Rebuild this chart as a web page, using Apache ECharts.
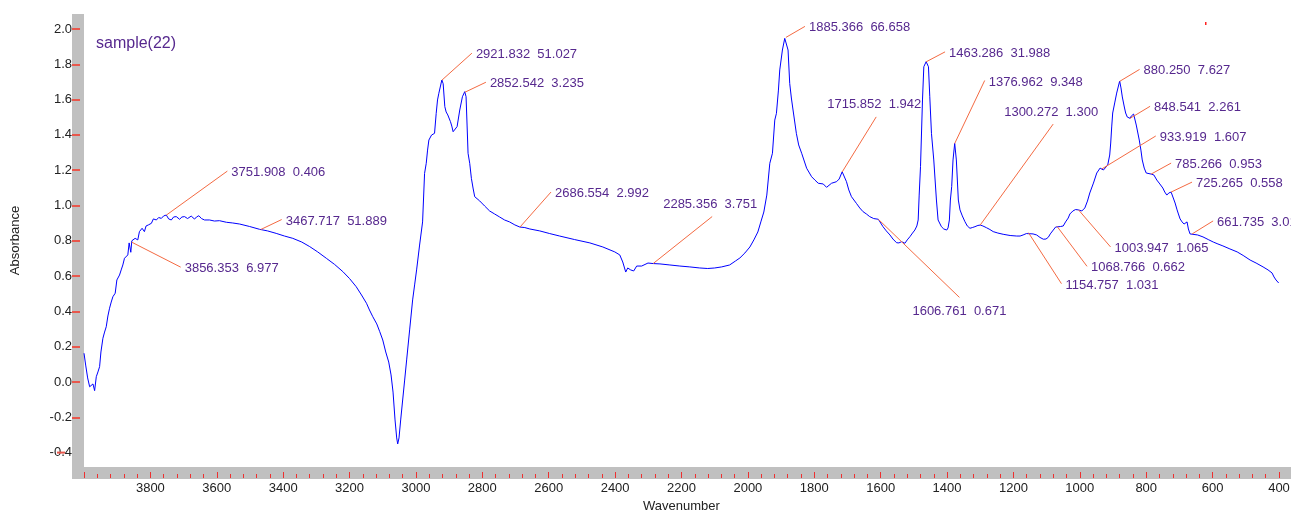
<!DOCTYPE html>
<html>
<head>
<meta charset="utf-8">
<script src="https://cdn.jsdelivr.net/npm/echarts@6/dist/echarts.min.js"></script>
<style>
  html, body { margin: 0; padding: 0; background: #ffffff; }
  #chart { width: 1291px; height: 511px; }
</style>
</head>
<body>
<div id="chart"></div>
<script>
// IR absorbance spectrum of sample(22): [wavenumber (cm-1), absorbance]
const spectrum = [
  [4000,0.163],[3995,0.096],[3989,0.023],[3983,-0.027],[3977,-0.017],[3973,-0.011],[3968,-0.049],[3963,0.030],
  [3958,0.057],[3953,0.087],[3949,0.170],[3943,0.248],[3938,0.283],[3933,0.313],[3928,0.374],[3923,0.418],
  [3918,0.453],[3913,0.483],[3906,0.503],[3901,0.578],[3893,0.606],[3888,0.635],[3883,0.663],[3878,0.701],
  [3873,0.703],[3868,0.720],[3864,0.788],[3861,0.795],[3859,0.735],[3856,0.800],[3851,0.790],[3846,0.814],
  [3843,0.814],[3838,0.805],[3833,0.852],[3825,0.871],[3818,0.852],[3813,0.884],[3806,0.890],[3797,0.899],
  [3791,0.924],[3782,0.918],[3775,0.932],[3767,0.927],[3760,0.941],[3752,0.946],[3745,0.924],[3737,0.918],
  [3730,0.935],[3722,0.937],[3712,0.922],[3705,0.935],[3697,0.937],[3688,0.926],[3677,0.940],[3667,0.923],
  [3661,0.935],[3654,0.942],[3646,0.926],[3637,0.918],[3622,0.918],[3607,0.912],[3592,0.914],[3571,0.905],
  [3552,0.901],[3531,0.895],[3501,0.881],[3471,0.865],[3447,0.856],[3421,0.842],[3396,0.827],[3371,0.814],
  [3344,0.793],[3320,0.767],[3296,0.737],[3270,0.701],[3245,0.666],[3220,0.625],[3200,0.586],[3180,0.540],
  [3164,0.493],[3149,0.446],[3140,0.408],[3130,0.370],[3118,0.329],[3109,0.285],[3100,0.238],[3091,0.170],
  [3082,0.113],[3075,0.040],[3069,-0.057],[3063,-0.215],[3058,-0.317],[3055,-0.351],[3051,-0.317],[3046,-0.215],
  [3040,-0.102],[3034,0.011],[3028,0.125],[3019,0.295],[3010,0.465],[3004,0.550],[2998,0.635],[2989,0.776],
  [2980,0.907],[2974,1.182],[2969,1.239],[2965,1.314],[2961,1.371],[2953,1.399],[2948,1.405],[2944,1.409],
  [2939,1.522],[2935,1.598],[2931,1.636],[2922,1.711],[2918,1.690],[2913,1.560],[2909,1.530],[2904,1.513],
  [2896,1.475],[2892,1.450],[2888,1.418],[2883,1.409],[2876,1.447],[2868,1.541],[2860,1.616],[2853,1.645],
  [2849,1.616],[2846,1.456],[2843,1.296],[2838,1.239],[2833,1.154],[2828,1.099],[2823,1.050],[2808,1.026],
  [2793,0.997],[2778,0.969],[2763,0.952],[2748,0.935],[2733,0.918],[2718,0.907],[2702,0.890],[2687,0.878],
  [2672,0.875],[2657,0.867],[2627,0.856],[2597,0.841],[2567,0.827],[2522,0.807],[2476,0.788],[2437,0.765],
  [2401,0.737],[2386,0.720],[2377,0.680],[2368,0.623],[2362,0.646],[2353,0.635],[2344,0.629],[2335,0.657],
  [2320,0.657],[2301,0.674],[2285,0.671],[2265,0.669],[2235,0.663],[2205,0.657],[2175,0.652],[2145,0.646],
  [2121,0.643],[2100,0.646],[2079,0.652],[2055,0.663],[2037,0.686],[2024,0.703],[2009,0.731],[1994,0.765],
  [1982,0.805],[1970,0.850],[1961,0.907],[1952,0.963],[1943,1.059],[1934,1.239],[1926,1.296],[1919,1.484],
  [1914,1.522],[1908,1.654],[1904,1.768],[1896,1.881],[1889,1.947],[1885,1.953],[1879,1.881],[1874,1.692],
  [1869,1.609],[1864,1.541],[1854,1.409],[1847,1.343],[1838,1.296],[1823,1.211],[1808,1.163],[1798,1.144],
  [1788,1.126],[1773,1.122],[1763,1.103],[1748,1.126],[1733,1.135],[1725,1.150],[1716,1.191],[1703,1.135],
  [1696,1.088],[1688,1.050],[1673,1.012],[1663,0.986],[1653,0.965],[1643,0.952],[1633,0.937],[1621,0.926],
  [1607,0.922],[1593,0.880],[1583,0.856],[1572,0.833],[1563,0.810],[1552,0.789],[1545,0.788],[1537,0.795],
  [1527,0.786],[1520,0.805],[1512,0.823],[1504,0.844],[1497,0.861],[1491,0.884],[1487,0.918],[1484,1.059],
  [1480,1.220],[1474,1.598],[1470,1.786],[1463,1.815],[1456,1.786],[1452,1.616],[1447,1.409],[1440,1.258],
  [1432,1.031],[1427,0.918],[1417,0.880],[1410,0.867],[1401,0.861],[1397,0.873],[1393,0.918],[1390,1.031],
  [1386,1.107],[1382,1.258],[1377,1.352],[1372,1.258],[1366,1.031],[1361,0.975],[1354,0.941],[1346,0.908],
  [1339,0.884],[1331,0.871],[1324,0.875],[1316,0.880],[1307,0.887],[1300,0.889],[1292,0.884],[1281,0.874],
  [1271,0.864],[1261,0.852],[1247,0.844],[1231,0.837],[1210,0.830],[1190,0.827],[1180,0.827],[1171,0.833],
  [1161,0.841],[1155,0.846],[1141,0.839],[1130,0.833],[1120,0.819],[1110,0.809],[1102,0.810],[1095,0.820],
  [1089,0.839],[1080,0.861],[1073,0.878],[1069,0.882],[1058,0.881],[1050,0.884],[1043,0.907],[1035,0.929],
  [1030,0.952],[1021,0.969],[1013,0.977],[1004,0.975],[994,0.969],[985,0.986],[977,1.025],[970,1.071],
  [959,1.127],[949,1.184],[939,1.212],[934,1.207],[929,1.201],[923,1.195],[916,1.229],[910,1.286],
  [907,1.354],[904,1.445],[901,1.524],[895,1.581],[889,1.637],[880,1.705],[876,1.666],[872,1.615],
  [866,1.558],[862,1.524],[857,1.501],[851,1.501],[848.5,1.494],[845,1.507],[838,1.518],[830,1.456],
  [821,1.371],[816,1.314],[812,1.258],[806,1.212],[800,1.184],[794,1.178],[785,1.178],[777,1.173],
  [768,1.144],[759,1.122],[750,1.099],[744,1.076],[738,1.059],[732,1.071],[725,1.076],[719,1.071],
  [713,1.014],[707,0.975],[703,0.952],[698,0.924],[692,0.907],[686,0.895],[681,0.895],[677,0.907],
  [673,0.867],[668,0.839],[662,0.839],[645,0.833],[629,0.822],[613,0.807],[598,0.793],[584,0.782],
  [569,0.771],[548,0.754],[526,0.737],[508,0.717],[487,0.691],[469,0.674],[448,0.652],[433,0.635],
  [421,0.618],[415,0.595],[409,0.578],[401,0.561]
];

// Picked peaks: wavenumber and the value printed next to it
const peakWavenumbers = [3856.353, 3751.908, 3467.717, 2921.832, 2852.542, 2686.554, 2285.356,
  1885.366, 1715.852, 1606.761, 1463.286, 1376.962, 1300.272, 1154.757, 1068.766, 1003.947,
  933.919, 880.250, 848.541, 785.266, 725.265, 661.735];
const peakValues = ['6.977', '0.406', '51.889', '51.027', '3.235', '2.992', '3.751',
  '66.658', '1.942', '0.671', '31.988', '9.348', '1.300', '1.031', '0.662', '1.065',
  '1.607', '7.627', '2.261', '0.953', '0.558', '3.012'];

// Axis ticks
const yTickValues = [-0.4, -0.2, 0.0, 0.2, 0.4, 0.6, 0.8, 1.0, 1.2, 1.4, 1.6, 1.8, 2.0];
const xRange = [400, 4000];
const yRange = [-0.4816, 2.085];

// Leader-line layout for each peak label: [dx, dy, placement] in pixels from the peak
const leaderLayout = [
  [49, 25, 'right'], [61, -44, 'right'], [21, -10, 'right'], [30, -27, 'right'],
  [21, -10, 'right'], [31, -35, 'right'], [59, -47, 'above'], [19, -11, 'right'],
  [34, -55, 'above'], [81, 78, 'below'], [19, -10, 'right'], [30, -63, 'right'],
  [73, -101, 'above'], [33, 51, 'right'], [30, 40, 'right'], [32, 37, 'right'],
  [54, -33, 'right'], [20, -12, 'right'], [20, -12, 'right'], [20, -11, 'right'],
  [21, -10, 'right'], [21, -13, 'right']
];

const FONT = '"Liberation Sans", Arial, Helvetica, sans-serif';
const PURPLE = '#56288e';
const LEADER = '#f46a42';
const TICK_RED = '#ee3030';
const BAND = '#c0c0c0';

// Linear interpolation of the spectrum at a given wavenumber
function absorbanceAt(wn) {
  for (let i = 0; i < spectrum.length - 1; i++) {
    const a = spectrum[i], b = spectrum[i + 1];
    if (wn <= a[0] && wn >= b[0]) {
      const t = (a[0] - wn) / (a[0] - b[0]);
      return a[1] + t * (b[1] - a[1]);
    }
  }
  return spectrum[spectrum.length - 1][1];
}

const peakData = peakWavenumbers.map((wn, i) => [wn, absorbanceAt(wn), i]);

function renderPeakLabel(params, api) {
  const i = api.value(2);
  const p = api.coord([api.value(0), api.value(1)]);
  const lay = leaderLayout[i];
  const ex = p[0] + lay[0], ey = p[1] + lay[1];
  const text = peakWavenumbers[i].toFixed(3) + '  ' + peakValues[i];
  let tx, ty, align;
  if (lay[2] === 'right') { tx = ex + 4; ty = ey + 1.5; align = 'left'; }
  else if (lay[2] === 'above') { tx = ex - 2; ty = ey - 12; align = 'center'; }
  else { tx = ex; ty = ey + 14; align = 'center'; }
  return {
    type: 'group',
    children: [
      { type: 'line', shape: { x1: p[0], y1: p[1], x2: ex, y2: ey },
        style: { stroke: LEADER, lineWidth: 1 } },
      { type: 'text', style: { x: tx, y: ty, text: text, fill: PURPLE, fontSize: 13,
        fontFamily: FONT, align: align, verticalAlign: 'middle' } }
    ]
  };
}

const chart = echarts.init(document.getElementById('chart'), null, { renderer: 'canvas' });

function bandGraphics(extra) {
  return [
    { type: 'rect', z: -1, silent: true, shape: { x: 72, y: 14, width: 12, height: 465 }, style: { fill: BAND } },
    { type: 'rect', z: -1, silent: true, shape: { x: 72, y: 467, width: 1219, height: 12 }, style: { fill: BAND } },
    { type: 'rect', z: 1, silent: true, shape: { x: 1205, y: 22, width: 1.5, height: 3 }, style: { fill: '#ff2020' } }
  ].concat(extra || []);
}

chart.setOption({
  animation: false,
  backgroundColor: '#ffffff',
  textStyle: { fontFamily: FONT },
  title: {
    text: 'sample(22)', left: 96, top: 36, padding: 0,
    textStyle: { color: PURPLE, fontSize: 16, fontWeight: 'normal', fontFamily: FONT }
  },
  grid: { left: 84, right: 12, top: 14, bottom: 44, containLabel: false, outerBoundsMode: 'none' },
  xAxis: {
    type: 'value', inverse: true, min: xRange[0], max: xRange[1], interval: 200,
    offset: 11,
    axisLine: { show: false, onZero: false },
    axisTick: { show: true, inside: true, length: 6, lineStyle: { color: TICK_RED, width: 1 } },
    minorTick: { show: true, splitNumber: 5, length: 4, lineStyle: { color: TICK_RED, width: 1 } },
    axisLabel: { showMaxLabel: false, margin: 4, color: '#222', fontSize: 13, fontFamily: FONT,
      formatter: v => String(v) },
    splitLine: { show: false },
    name: 'Wavenumber', nameLocation: 'middle', nameGap: 20,
    nameTextStyle: { color: '#222', fontSize: 13, fontFamily: FONT }
  },
  yAxis: {
    type: 'value', min: yRange[0], max: yRange[1],
    offset: 4,
    axisLine: { show: false, onZero: false },
    axisTick: { show: true, length: 8, customValues: yTickValues.filter(v => v !== -0.4),
      lineStyle: { color: '#e8574c', width: 2 } },
    axisLabel: { customValues: yTickValues, formatter: v => Number(v).toFixed(1),
      margin: 8, color: '#222', fontSize: 13, fontFamily: FONT },
    splitLine: { show: false },
    name: 'Absorbance', nameLocation: 'middle', nameGap: 58,
    nameTextStyle: { color: '#222', fontSize: 13, fontFamily: FONT }
  },
  graphic: bandGraphics(),
  series: [
    {
      type: 'line', data: spectrum, showSymbol: false, symbol: 'none',
      lineStyle: { color: '#0000ff', width: 1 }, z: 3, clip: true
    },
    {
      type: 'custom', data: peakData, renderItem: renderPeakLabel, z: 4, clip: false,
      encode: { x: 0, y: 1 }
    }
  ]
});

// the -0.4 tick sits left of the band, over its label
const yLow = chart.convertToPixel({ yAxisIndex: 0 }, -0.4);
chart.setOption({
  graphic: bandGraphics([
    { type: 'line', z: 5, silent: true, shape: { x1: 57, y1: yLow, x2: 65, y2: yLow },
      style: { stroke: '#e8574c', lineWidth: 2 } }
  ])
});
</script>
</body>
</html>
